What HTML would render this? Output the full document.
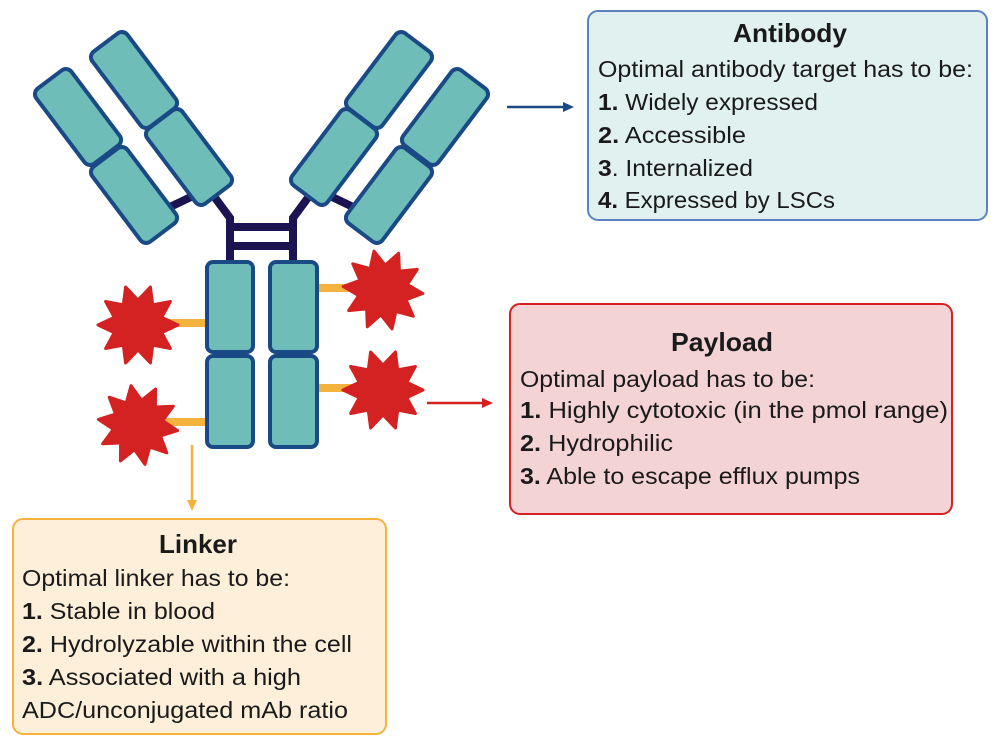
<!DOCTYPE html>
<html><head><meta charset="utf-8"><style>
body{margin:0;background:#fff}
svg{display:block;font-family:"Liberation Sans",sans-serif}
.t{font-size:23.5px;fill:#1a1a1a}
.h{font-size:26px;font-weight:bold;fill:#1a1a1a}
</style></head><body>
<svg width="1000" height="747" viewBox="0 0 1000 747">
<defs>
<polygon id="st" points="40,0 23.8,7.7 32.4,23.5 14.7,20.2 12.4,38 0,25 -12.4,38 -14.7,20.2 -32.4,23.5 -23.8,7.7 -40,0 -23.8,-7.7 -32.4,-23.5 -14.7,-20.2 -12.4,-38 0,-25 12.4,-38 14.7,-20.2 32.4,-23.5 23.8,-7.7" fill="#d42121" stroke="#d42121" stroke-width="3" stroke-linejoin="round"/>
<rect id="bx" x="-22" y="-47" width="44" height="94" rx="7" fill="#6fbdb8" stroke="#1a4a86" stroke-width="4"/>
<g id="arm">
<line x1="170" y1="207" x2="195" y2="195" stroke="#1c1450" stroke-width="8"/>
<use href="#bx" transform="translate(78,117) rotate(-37)"/>
<use href="#bx" transform="translate(134,195) rotate(-37)"/>
<use href="#bx" transform="translate(134,80) rotate(-37)"/>
<use href="#bx" transform="translate(189,157) rotate(-37)"/>
</g>
</defs>
<g stroke="#1c1450" stroke-width="8" fill="none">
<polyline points="213,195 230,218 230,264"/>
<polyline points="310,195 293,218 293,264"/>
<line x1="230" y1="227" x2="293" y2="227"/>
<line x1="230" y1="246" x2="293" y2="246"/>
</g>
<use href="#arm"/>
<use href="#arm" transform="translate(523,0) scale(-1,1)"/>
<g stroke="#f3b33d" stroke-width="8">
<line x1="160" y1="323" x2="208" y2="323"/>
<line x1="160" y1="422" x2="208" y2="422"/>
<line x1="316" y1="288" x2="360" y2="288"/>
<line x1="316" y1="388" x2="360" y2="388"/>
</g>
<g fill="#6fbdb8" stroke="#1a4a86" stroke-width="4">
<rect x="207" y="262" width="46" height="90" rx="6"/>
<rect x="207" y="356" width="46" height="91" rx="6"/>
<rect x="270" y="262" width="47" height="90" rx="6"/>
<rect x="270" y="356" width="47" height="91" rx="6"/>
</g>
<use href="#st" transform="translate(138,325)"/>
<use href="#st" transform="translate(138,425) rotate(8)"/>
<use href="#st" transform="translate(383,290) rotate(5)"/>
<use href="#st" transform="translate(383,390)"/>
<line x1="507" y1="107" x2="566" y2="107" stroke="#1a4a86" stroke-width="2.5"/>
<polygon points="574,107 563,102 563,112" fill="#1a4a86"/>
<line x1="427" y1="403" x2="485" y2="403" stroke="#d42121" stroke-width="2.5"/>
<polygon points="493,403 482,398 482,408" fill="#d42121"/>
<line x1="192" y1="445" x2="192" y2="503" stroke="#f3b33d" stroke-width="2.5"/>
<polygon points="192,511 187,500 197,500" fill="#f3b33d"/>

<rect x="588" y="11" width="399" height="209" rx="10" fill="#e1f1ef" stroke="#5a84c0" stroke-width="2"/>
<text class="h" x="790" y="42" text-anchor="middle" textLength="114" lengthAdjust="spacingAndGlyphs">Antibody</text>
<text class="t" x="598" y="77" textLength="375" lengthAdjust="spacingAndGlyphs">Optimal antibody target has to be:</text>
<text class="t" x="598" y="110" textLength="220" lengthAdjust="spacingAndGlyphs"><tspan font-weight="bold">1.</tspan> Widely expressed</text>
<text class="t" x="598" y="143" textLength="148" lengthAdjust="spacingAndGlyphs"><tspan font-weight="bold">2.</tspan> Accessible</text>
<text class="t" x="598" y="176" textLength="155" lengthAdjust="spacingAndGlyphs"><tspan font-weight="bold">3</tspan>. Internalized</text>
<text class="t" x="598" y="208" textLength="237" lengthAdjust="spacingAndGlyphs"><tspan font-weight="bold">4.</tspan> Expressed by LSCs</text>

<rect x="510" y="304" width="442" height="210" rx="10" fill="#f4d3d4" stroke="#d42121" stroke-width="2"/>
<text class="h" x="722" y="351" text-anchor="middle" textLength="102" lengthAdjust="spacingAndGlyphs">Payload</text>
<text class="t" x="520" y="387" textLength="295" lengthAdjust="spacingAndGlyphs">Optimal payload has to be:</text>
<text class="t" x="520" y="418" textLength="428" lengthAdjust="spacingAndGlyphs"><tspan font-weight="bold">1.</tspan> Highly cytotoxic (in the pmol range)</text>
<text class="t" x="520" y="451" textLength="153" lengthAdjust="spacingAndGlyphs"><tspan font-weight="bold">2.</tspan> Hydrophilic</text>
<text class="t" x="520" y="484" textLength="340" lengthAdjust="spacingAndGlyphs"><tspan font-weight="bold">3.</tspan> Able to escape efflux pumps</text>

<rect x="13" y="519" width="373" height="215" rx="10" fill="#fdefd9" stroke="#f3b33d" stroke-width="2"/>
<text class="h" x="198" y="553" text-anchor="middle" textLength="78" lengthAdjust="spacingAndGlyphs">Linker</text>
<text class="t" x="22" y="586" textLength="268" lengthAdjust="spacingAndGlyphs">Optimal linker has to be:</text>
<text class="t" x="22" y="619" textLength="193" lengthAdjust="spacingAndGlyphs"><tspan font-weight="bold">1.</tspan> Stable in blood</text>
<text class="t" x="22" y="652" textLength="330" lengthAdjust="spacingAndGlyphs"><tspan font-weight="bold">2.</tspan> Hydrolyzable within the cell</text>
<text class="t" x="22" y="685" textLength="279" lengthAdjust="spacingAndGlyphs"><tspan font-weight="bold">3.</tspan> Associated with a high</text>
<text class="t" x="22" y="718" textLength="326" lengthAdjust="spacingAndGlyphs">ADC/unconjugated mAb ratio</text>
</svg>
</body></html>
